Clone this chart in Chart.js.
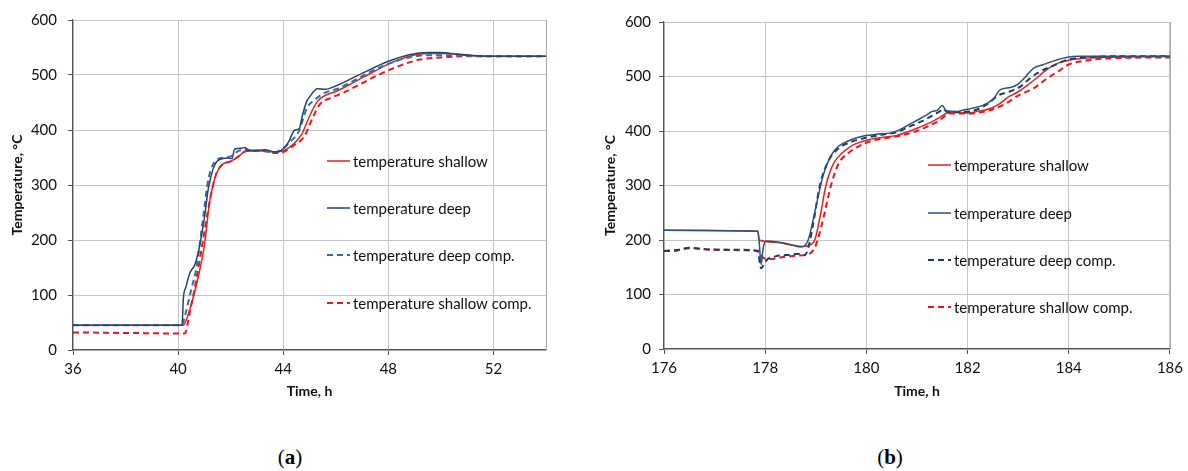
<!DOCTYPE html>
<html>
<head>
<meta charset="utf-8">
<script src="https://cdn.jsdelivr.net/npm/chart.js@4.4.1/dist/chart.umd.min.js"></script>
<style>
  body { margin: 0; background: #fff; width: 1188px; height: 471px; overflow: hidden; position: relative; }
  .box { position: absolute; top: 0; width: 594px; height: 420px; }
  .cap { position: absolute; top: 445px; font-family: "Liberation Serif", serif; font-size: 21px; color: #000; transform: translateX(-50%); }
  .cap b { font-weight: bold; }
</style>
</head>
<body>
<div class="box" style="left:0"><canvas id="chartA" width="594" height="420"></canvas></div>
<div class="box" style="left:594px"><canvas id="chartB" width="594" height="420"></canvas></div>
<div class="cap" style="left:290px">(<b>a</b>)</div>
<div class="cap" style="left:890px">(<b>b</b>)</div>
<script>
// ---- chart (a) data, time in h, temperature in °C ----
const aShallowT = [36, 40.2, 40.35, 40.6, 40.8, 41.0, 41.2, 41.45, 41.7, 42.0, 42.3, 42.5, 42.8, 43.3, 43.7, 44.0, 44.4, 44.7, 45.0, 45.3, 45.6, 46.0, 46.7, 47.4, 48.1, 48.8, 49.5, 50.2, 50.9, 51.6, 54];
const aShallowV = [45, 45, 60, 100, 140, 190, 270, 320, 338, 343, 352, 360, 363, 362, 360, 362, 375, 392, 425, 452, 463, 470, 487, 505, 522, 534, 539, 539, 536, 534, 534];

const aDeepT = [36, 40.15, 40.2, 40.3, 40.44, 40.65, 40.8, 41.0, 41.16, 41.5, 41.9, 42.05, 42.15, 42.4, 42.55, 42.7, 43.1, 43.3, 43.7, 43.9, 44.2, 44.44, 44.6, 44.75, 44.9, 45.0, 45.3, 45.6, 46.0, 47.0, 48.0, 48.8, 49.5, 50.0, 50.6, 51.4, 52.0, 54];
const aDeepV = [45, 45, 94, 115, 139, 157, 185, 240, 296, 344, 349, 348, 365, 367, 368, 362, 363, 364, 360, 362, 378, 400, 402, 430, 453, 460, 475, 474, 480, 503, 525, 537, 541, 541, 538, 535, 534, 534];

const aDeepCompT = [36, 40.15, 40.25, 40.5, 40.7, 40.95, 41.15, 41.45, 41.8, 42.0, 42.3, 42.5, 42.8, 43.2, 43.7, 43.9, 44.3, 44.6, 44.9, 45.2, 45.6, 46.0, 46.7, 47.4, 48.1, 48.8, 49.5, 50.3, 51.0, 52.0, 54];
const aDeepCompV = [45, 45, 60, 110, 150, 240, 310, 345, 350, 352, 362, 365, 363, 362, 360, 363, 380, 398, 440, 455, 468, 474, 490, 508, 522, 532, 536, 536, 535, 534, 534];

const aShallowCompT = [36, 38, 40.1, 40.25, 40.45, 40.7, 40.95, 41.2, 41.45, 41.7, 42.0, 42.3, 42.6, 43.2, 43.7, 44.0, 44.4, 44.8, 45.1, 45.4, 45.8, 46.3, 47.0, 47.7, 48.5, 49.2, 50.0, 51.0, 54];
const aShallowCompV = [32, 31, 30, 30, 70, 130, 200, 270, 320, 338, 343, 352, 362, 362, 358, 360, 372, 388, 420, 447, 458, 468, 485, 502, 518, 528, 532, 534, 534];

// ---- chart (b) data ----
const bShallowT = [176, 177.85, 177.88, 178.2, 178.5, 178.75, 178.85, 178.98, 179.1, 179.2, 179.35, 179.55, 179.75, 180.0, 180.3, 180.6, 180.8, 181.0, 181.25, 181.45, 181.6, 181.8, 182.0, 182.2, 182.4, 182.6, 182.8, 183.0, 183.2, 183.4, 183.6, 183.8, 184.0, 184.4, 185.0, 186];
const bShallowV = [218, 216, 200, 196, 191, 188, 190, 200, 250, 300, 340, 362, 375, 383, 388, 392, 398, 405, 415, 425, 433, 434, 433, 436, 440, 448, 462, 472, 485, 500, 515, 525, 530, 534, 536, 537];

const bDeepT = [176, 177.86, 177.92, 177.96, 178.02, 178.2, 178.5, 178.7, 178.85, 179.0, 179.15, 179.3, 179.45, 179.65, 179.9, 180.2, 180.5, 180.65, 180.85, 181.05, 181.2, 181.3, 181.4, 181.5, 181.58, 181.8, 181.9, 182.1, 182.3, 182.5, 182.65, 182.85, 183.0, 183.15, 183.3, 183.5, 183.75, 183.95, 184.2, 186];
const bDeepV = [218, 216, 155, 185, 198, 197, 192, 187, 200, 260, 320, 355, 372, 382, 390, 394, 397, 402, 412, 422, 430, 436, 438, 447, 437, 436, 438, 442, 447, 458, 476, 480, 486, 500, 515, 522, 530, 535, 537, 537];

const bDeepCompT = [176, 176.3, 176.5, 176.7, 177.0, 177.5, 177.85, 177.92, 177.97, 178.05, 178.2, 178.5, 178.72, 178.78, 178.85, 178.95, 179.08, 179.25, 179.45, 179.7, 180.0, 180.3, 180.6, 180.85, 181.1, 181.3, 181.45, 181.52, 181.6, 181.9, 182.2, 182.4, 182.6, 182.85, 183.05, 183.25, 183.45, 183.7, 183.95, 184.3, 185.0, 186];
const bDeepCompV = [180, 182, 186, 184, 182, 182, 180, 148, 155, 165, 170, 173, 175, 172, 185, 230, 300, 345, 368, 380, 388, 393, 398, 408, 418, 428, 436, 440, 435, 435, 440, 450, 465, 473, 482, 498, 510, 520, 530, 535, 537, 537];

const bShallowCompT = [176, 176.2, 176.4, 176.6, 176.8, 177.2, 177.6, 177.88, 177.95, 178.1, 178.3, 178.6, 178.8, 178.92, 179.0, 179.15, 179.3, 179.45, 179.65, 179.85, 180.1, 180.4, 180.7, 181.0, 181.25, 181.45, 181.65, 182.0, 182.3, 182.5, 182.75, 183.0, 183.3, 183.55, 183.8, 184.0, 184.4, 185.0, 186];
const bShallowCompV = [180, 180, 184, 185, 183, 182, 181, 180, 168, 165, 168, 171, 173, 178, 190, 240, 300, 340, 360, 372, 382, 387, 392, 400, 410, 420, 432, 432, 435, 440, 450, 465, 478, 495, 510, 522, 530, 534, 535];

const seriesNames = ['temperature shallow', 'temperature deep', 'temperature deep comp.', 'temperature shallow comp.'];
const aTicks = [36, 40, 44, 48, 52];
const bTicks = [176, 178, 180, 182, 184, 186];
const yTicks = [0, 100, 200, 300, 400, 500, 600];

function pts(t, v) {
  return t.map((x, i) => ({ x: x, y: v[i] }));
}

// legend drawn inside the plot area, one row per series
const innerLegend = {
  id: 'innerLegend',
  afterDraw(chart, args, opts) {
    const ctx = chart.ctx;
    const area = chart.chartArea;
    ctx.save();
    ctx.font = '15px Lato';
    ctx.textBaseline = 'middle';
    ctx.fillStyle = '#111';
    opts.order.forEach((idx, k) => {
      const ds = chart.data.datasets[idx];
      const y = area.top + opts.rows[k];
      const x0 = area.left + opts.x;
      ctx.strokeStyle = ds.borderColor;
      ctx.lineWidth = ds.borderWidth;
      ctx.setLineDash(ds.borderDash || []);
      ctx.beginPath();
      ctx.moveTo(x0, y);
      ctx.lineTo(x0 + 23, y);
      ctx.stroke();
      ctx.setLineDash([]);
      ctx.fillText(ds.label, x0 + 26, y + 1);
    });
    ctx.restore();
  }
};

function makeChart(id, xMin, xMax, xTicks, sets, legendOpts, pad, yTitlePad, yTickPad) {
  return new Chart(document.getElementById(id), {
    type: 'line',
    data: { datasets: sets },
    options: {
      responsive: false,
      animation: false,
      layout: { padding: { left: 0, top: pad.top, right: pad.right, bottom: 0 } },
      elements: { point: { radius: 0 }, line: { cubicInterpolationMode: 'monotone' } },
      plugins: {
        legend: { display: false },
        tooltip: { enabled: false },
        innerLegend: legendOpts
      },
      scales: {
        x: {
          type: 'linear',
          min: xMin,
          max: xMax,
          afterBuildTicks: s => { s.ticks = xTicks.concat(xTicks[xTicks.length - 1] === xMax ? [] : [xMax]).map(v => ({ value: v })); },
          afterFit: s => { s.height = 420 - pad.bottomAxis; },
          ticks: {
            color: '#111',
            font: { family: 'Lato', size: 15 },
            padding: 5,
            maxRotation: 0,
            callback: v => xTicks.includes(v) ? String(v) : ''
          },
          grid: {
            color: '#c4c4c4',
            tickLength: 5,
            tickColor: c => (c.tick && xTicks.includes(c.tick.value)) ? '#555' : 'rgba(0,0,0,0)'
          },
          border: { color: '#555', width: 1.2 },
          title: {
            display: true,
            text: 'Time, h',
            color: '#111',
            font: { family: 'Lato', size: 14, weight: 'bold' },
            padding: { top: 0, bottom: 20 }
          }
        },
        y: {
          min: 0,
          max: 600,
          afterBuildTicks: s => { s.ticks = yTicks.map(v => ({ value: v })); },
          afterFit: s => { s.width = pad.left; },
          ticks: {
            color: '#111',
            font: { family: 'Lato', size: 15 },
            padding: yTickPad
          },
          grid: { color: '#c4c4c4', tickLength: 5, tickColor: '#555' },
          border: { color: '#555', width: 1.2 },
          title: {
            display: true,
            text: 'Temperature, °C',
            color: '#111',
            font: { family: 'Lato', size: 14, weight: 'bold' },
            padding: { top: yTitlePad, bottom: 0 }
          }
        }
      }
    },
    plugins: [innerLegend, {
      id: 'rightBorder',
      afterDatasetsDraw(chart) {
        const a = chart.chartArea, ctx = chart.ctx;
        ctx.save();
        ctx.strokeStyle = '#a8a8a8';
        ctx.lineWidth = 1;
        ctx.beginPath();
        ctx.moveTo(a.right + 0.5, a.top);
        ctx.lineTo(a.right + 0.5, a.bottom);
        ctx.stroke();
        ctx.restore();
      }
    }]
  });
}

const redSolid = '#e2231a';
const redDash = '#e8141f';

// Chart.js paints the first dataset last, so the deep lines come first to sit on top
makeChart('chartA', 36, 54, aTicks, [
  { label: seriesNames[1], data: pts(aDeepT, aDeepV), borderColor: '#24446c', borderWidth: 1.5 },
  { label: seriesNames[2], data: pts(aDeepCompT, aDeepCompV), borderColor: '#2e6eb0', borderWidth: 2, borderDash: [6, 4] },
  { label: seriesNames[0], data: pts(aShallowT, aShallowV), borderColor: redSolid, borderWidth: 1.5 },
  { label: seriesNames[3], data: pts(aShallowCompT, aShallowCompV), borderColor: redDash, borderWidth: 2, borderDash: [6, 4] }
], { order: [2, 0, 1, 3], x: 254, rows: [141, 188, 235, 283] },
  { top: 19, right: 48, left: 73, bottomAxis: 350 }, 9, 11);

makeChart('chartB', 176, 186, bTicks, [
  { label: seriesNames[1], data: pts(bDeepT, bDeepV), borderColor: '#2d5178', borderWidth: 1.5 },
  { label: seriesNames[2], data: pts(bDeepCompT, bDeepCompV), borderColor: '#1f3b66', borderWidth: 2, borderDash: [6, 4] },
  { label: seriesNames[0], data: pts(bShallowT, bShallowV), borderColor: redSolid, borderWidth: 1.5 },
  { label: seriesNames[3], data: pts(bShallowCompT, bShallowCompV), borderColor: redDash, borderWidth: 2, borderDash: [6, 4] }
], { order: [2, 0, 1, 3], x: 264, rows: [143, 191, 238, 285] },
  { top: 22, right: 17, left: 70, bottomAxis: 349 }, 8, 8);
</script>
</body>
</html>
